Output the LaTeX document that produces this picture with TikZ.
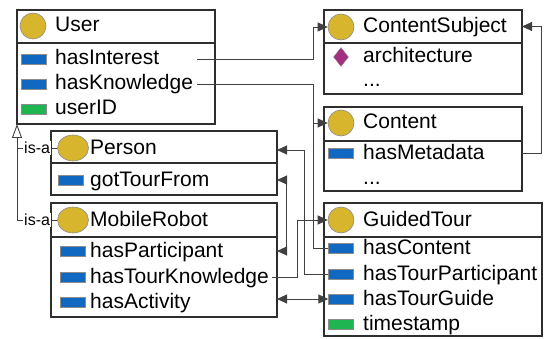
\documentclass[tikz,border=0pt]{standalone}
\usepackage{fontspec}
\setmainfont{Liberation Sans}
\usetikzlibrary{shapes.geometric,arrows.meta,calc}

\definecolor{clsgold}{HTML}{D7B62E}
\definecolor{propblue}{HTML}{1068C0}
\definecolor{attrgreen}{HTML}{1FB550}
\definecolor{indpurple}{HTML}{A3307F}
\definecolor{boxline}{HTML}{2E2E2E}
\definecolor{iconline}{HTML}{8C8C8C}
\definecolor{connline}{HTML}{404040}

\tikzset{
  classbox/.style={draw=boxline,line width=1.3pt,anchor=north west,inner sep=0pt,outer sep=0pt},
  clsicon/.style={circle,fill=clsgold,draw=iconline,line width=0.6pt,minimum size=26pt,inner sep=0pt},
  clsoval/.style={clsicon,ellipse,minimum width=31pt,minimum height=26pt},
  propicon/.style={rectangle,fill=propblue,draw=iconline,line width=0.4pt,minimum width=25pt,minimum height=10pt,inner sep=0pt},
  attricon/.style={propicon,fill=attrgreen},
  indicon/.style={diamond,fill=indpurple,draw=iconline,line width=0.4pt,minimum width=15pt,minimum height=19pt,inner sep=0pt},
  itemtext/.style={anchor=west,inner sep=0pt,text height=16pt,text depth=4pt},
  conn/.style={draw=connline,line width=0.9pt},
  isa/.style={draw=connline,line width=0.9pt},
  isalabel/.style={fill=white,inner sep=1pt,font=\fontsize{16}{18}\selectfont}
}

\begin{document}
\begin{tikzpicture}[x=1pt,y=-1pt,font=\fontsize{21}{25}\selectfont,
  >={Triangle[length=10pt,width=9pt]}]
\useasboundingbox (0,0) rectangle (545,339);

% User
\node[classbox,minimum width=198pt,minimum height=33pt] (userT) at (17,10) {};
\node[classbox,minimum width=198pt,minimum height=81pt] (userB) at (userT.south west) {};
\node[clsicon] (userC) at (33,26) {};
\node[itemtext] (userN) at (55,26) {User};
\node[propicon] (hasInterestI) at (34,59) {};
\node[itemtext] (hasInterest) at (55,59) {hasInterest};
\node[propicon] (hasKnowledgeI) at (34,84) {};
\node[itemtext] (hasKnowledge) at (55,84) {hasKnowledge};
\node[attricon] (userIDI) at (34,109) {};
\node[itemtext] (userID) at (55,109) {userID};

% Person
\node[classbox,minimum width=226pt,minimum height=32pt] (personT) at (51,131) {};
\node[classbox,minimum width=226pt,minimum height=32pt] (personB) at (personT.south west) {};
\node[clsoval] (personC) at (73,148) {};
\node[itemtext] (personN) at (90,148) {Person};
\node[propicon] (gotTourFromI) at (71,180) {};
\node[itemtext] (gotTourFrom) at (90,180) {gotTourFrom};

% MobileRobot
\node[classbox,minimum width=226pt,minimum height=34pt] (mrT) at (51,203) {};
\node[classbox,minimum width=226pt,minimum height=80pt] (mrB) at (mrT.south west) {};
\node[clsoval] (mrC) at (73,220) {};
\node[itemtext] (mrN) at (90,220) {MobileRobot};
\node[propicon] (hasParticipantI) at (73,251) {};
\node[itemtext] (hasParticipant) at (90,251) {hasParticipant};
\node[propicon] (hasTourKnowledgeI) at (73,277) {};
\node[itemtext] (hasTourKnowledge) at (90,277) {hasTourKnowledge};
\node[propicon] (hasActivityI) at (73,302) {};
\node[itemtext] (hasActivity) at (90,302) {hasActivity};

% ContentSubject
\node[classbox,minimum width=198pt,minimum height=33pt] (csT) at (324,10) {};
\node[classbox,minimum width=198pt,minimum height=51pt] (csB) at (csT.south west) {};
\node[clsicon] (csC) at (341,27) {};
\node[itemtext] (csN) at (363,27) {ContentSubject};
\node[indicon] (architectureI) at (341,57) {};
\node[itemtext] (architecture) at (363,57) {architecture};
\node[itemtext] (csMore) at (363,81) {...};

% Content
\node[classbox,minimum width=198pt,minimum height=34pt] (cntT) at (324,107) {};
\node[classbox,minimum width=198pt,minimum height=50pt] (cntB) at (cntT.south west) {};
\node[clsicon] (cntC) at (341,123) {};
\node[itemtext] (cntN) at (363,123) {Content};
\node[propicon] (hasMetadataI) at (341,153) {};
\node[itemtext] (hasMetadata) at (363,153) {hasMetadata};
\node[itemtext] (cntMore) at (363,178) {...};

% GuidedTour
\node[classbox,minimum width=218pt,minimum height=34pt] (tourT) at (324,203) {};
\node[classbox,minimum width=218pt,minimum height=99pt] (tourB) at (tourT.south west) {};
\node[clsicon] (tourC) at (341,220) {};
\node[itemtext] (tourN) at (363,220) {GuidedTour};
\node[propicon] (hasContentI) at (341,248) {};
\node[itemtext] (hasContent) at (363,248) {hasContent};
\node[propicon] (hasTourPartI) at (341,274) {};
\node[itemtext] (hasTourPart) at (363,274) {hasTourParticipant};
\node[propicon] (hasTourGuideI) at (341,299) {};
\node[itemtext] (hasTourGuide) at (363,299) {hasTourGuide};
\node[attricon] (timestampI) at (341,324) {};
\node[itemtext] (timestamp) at (363,324) {timestamp};

% lanes
\coordinate (ustub) at (197,0);
\coordinate (laneA) at (313,0);
\coordinate (laneB) at (304,0);
\coordinate (laneC) at (297,0);
\coordinate (personIn) at ([yshift=-3pt]personT.east);

% properties
\draw[conn,->] (ustub |- hasInterest) -| (laneA |- csC) -- (csC.west);
\draw[conn,->] (ustub |- hasKnowledge) -| (laneA |- cntC) -- (cntC.west);
\draw[conn] (hasContentI.west) -| (laneA |- cntC);
\draw[conn,->] (hasTourPartI.west) -| (laneB |- personIn) -- (personIn);
\draw[conn,<->] (personB.east |- gotTourFrom) -- ++(9,0) |- (mrB.east |- hasParticipant);
\draw[conn,->] ([xshift=3pt]hasTourKnowledge.east) -| (laneC |- tourC) -- (tourC.west);
\draw[conn,<->] (mrB.east |- hasTourGuideI) -- (hasTourGuideI.west);
\draw[conn,->] (cntB.east |- hasMetadata) -- ++(19,0) |- (csT.east);

% is-a
\draw[isa] (personC.west) -- node[isalabel] {is-a} (userB.south west |- personC);
\draw[isa,-{Triangle[open,length=14pt,width=10pt]}] (mrC.west) -- node[isalabel] {is-a} (userB.south west |- mrC) -- (userB.south west);
\end{tikzpicture}
\end{document}
